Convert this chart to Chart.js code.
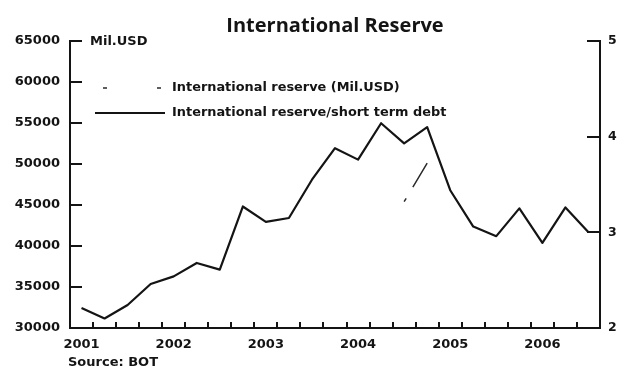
<!DOCTYPE html>
<html>
<head>
<meta charset="utf-8">
<title>International Reserve</title>
<script src="https://cdn.jsdelivr.net/npm/chart.js@4/dist/chart.umd.min.js"></script>
<style>
  html, body { margin: 0; padding: 0; background: #ffffff; }
  #wrap { width: 619px; height: 368px; position: relative; }
</style>
</head>
<body>
<div id="wrap"><canvas id="chart"></canvas></div>
<script>
// Quarterly periods, 2001Q1 .. 2006Q3
const quarters = [
  '2001Q1','2001Q2','2001Q3','2001Q4',
  '2002Q1','2002Q2','2002Q3','2002Q4',
  '2003Q1','2003Q2','2003Q3','2003Q4',
  '2004Q1','2004Q2','2004Q3','2004Q4',
  '2005Q1','2005Q2','2005Q3','2005Q4',
  '2006Q1','2006Q2','2006Q3'
];

// Year labels shown under the first quarter of each year
const yearLabels = ['2001', '2002', '2003', '2004', '2005', '2006'];

// International reserve, million USD (left axis)
const reserveMilUSD = [
  null, null, null, null,
  null, null, null, null,
  null, null, null, null,
  null, null, 45400, 50100,
  null, null, null, null,
  null, null, null
];

// International reserve / short term debt (right axis)
const reserveToShortDebt = [
  2.21, 2.10, 2.24, 2.46,
  2.54, 2.68, 2.61, 3.27,
  3.11, 3.15, 3.55, 3.88,
  3.76, 4.14, 3.93, 4.10,
  3.44, 3.06, 2.96, 3.25,
  2.89, 3.26, 3.00
];

// Axis tick values
const leftTicks = [30000, 35000, 40000, 45000, 50000, 55000, 60000, 65000];
const rightTicks = [2, 3, 4, 5];

const INK = '#141414';
const FONT = 'DejaVu Sans';

// Axis frame with inward-pointing tick marks, legend, unit and source notes
const framePlugin = {
  id: 'frame',
  afterDraw(chart) {
    const { ctx, chartArea: a, scales } = chart;
    const x = scales.x, yl = scales.y, yr = scales.y1;
    ctx.save();
    ctx.strokeStyle = INK;
    ctx.lineWidth = 2;
    ctx.lineCap = 'butt';

    // axis lines
    ctx.beginPath();
    ctx.moveTo(a.left, yl.getPixelForValue(leftTicks[leftTicks.length - 1]));
    ctx.lineTo(a.left, a.bottom);
    ctx.lineTo(a.right, a.bottom);
    ctx.lineTo(a.right, yr.getPixelForValue(rightTicks[rightTicks.length - 1]));
    ctx.stroke();

    // left ticks (pointing into the plot)
    ctx.beginPath();
    leftTicks.forEach(v => {
      const py = Math.round(yl.getPixelForValue(v));
      ctx.moveTo(a.left - 1, py);
      ctx.lineTo(a.left + 12, py);
    });
    // right ticks
    rightTicks.forEach(v => {
      const py = Math.round(yr.getPixelForValue(v));
      ctx.moveTo(a.right + 1, py);
      ctx.lineTo(a.right - 13, py);
    });
    // bottom ticks at quarter boundaries
    for (let i = 1; i < quarters.length; i++) {
      const px = Math.round((x.getPixelForValue(i - 1) + x.getPixelForValue(i)) / 2);
      ctx.moveTo(px, a.bottom);
      ctx.lineTo(px, a.bottom - 6);
    }
    ctx.stroke();

    // unit label
    ctx.fillStyle = INK;
    ctx.font = 'bold 13px "' + FONT + '"';
    ctx.textAlign = 'left';
    ctx.textBaseline = 'middle';
    ctx.fillText('Mil.USD', a.left + 20, yl.getPixelForValue(65000) + 1);

    // source note
    ctx.fillText('Source: BOT', a.left - 2, chart.height - 5);

    // legend
    const legendX0 = a.left + 25, legendX1 = a.left + 95, textX = a.left + 102;
    const rows = [a.top + 47, a.top + 72];
    chart.data.datasets.forEach((ds, i) => {
      const ry = rows[i];
      ctx.save();
      ctx.strokeStyle = ds.borderColor;
      ctx.lineWidth = i === 0 ? 1.5 : 2.2;
      if (i === 0) {
        ctx.setLineDash([4, 50]);
        ctx.lineDashOffset = -8;
      }
      ctx.beginPath();
      ctx.moveTo(legendX0, ry);
      ctx.lineTo(legendX1, ry);
      ctx.stroke();
      ctx.restore();
      ctx.font = 'bold 12.9px "' + FONT + '"';
      ctx.fillStyle = INK;
      ctx.textBaseline = 'middle';
      ctx.fillText(ds.label, textX, ry);
    });
    ctx.restore();
  }
};

const ctx = document.getElementById('chart').getContext('2d');
new Chart(ctx, {
  type: 'line',
  data: {
    labels: quarters,
    datasets: [
      {
        label: 'International reserve (Mil.USD)',
        data: reserveMilUSD,
        yAxisID: 'y',
        borderColor: '#2a2a2a',
        borderWidth: 1.5,
        borderDash: [4, 13, 30, 10],
        pointRadius: 0,
        spanGaps: false,
        tension: 0
      },
      {
        label: 'International reserve/short term debt',
        data: reserveToShortDebt,
        yAxisID: 'y1',
        borderColor: INK,
        borderWidth: 2.2,
        pointRadius: 0,
        tension: 0,
        borderJoinStyle: 'round'
      }
    ]
  },
  options: {
    responsive: true,
    maintainAspectRatio: false,
    devicePixelRatio: 1,
    animation: false,
    layout: { padding: { left: 0, right: 0, top: 0, bottom: 0 } },
    plugins: {
      legend: { display: false },
      tooltip: { enabled: false },
      title: {
        display: true,
        text: 'International Reserve',
        color: INK,
        fullSize: false,
        font: { family: '"Open Sans"', size: 20, weight: 'bold', lineHeight: 1.2 },
        padding: { top: 14, bottom: 3 }
      }
    },
    scales: {
      x: {
        type: 'category',
        offset: true,
        grid: { display: false, drawTicks: false },
        border: { display: false },
        ticks: {
          autoSkip: false,
          maxRotation: 0,
          padding: 9,
          color: INK,
          font: { family: FONT, size: 13, weight: 'bold' },
          callback: (v, i) => {
            const q = quarters[i];
            return q.endsWith('Q1') && yearLabels.includes(q.slice(0, 4)) ? q.slice(0, 4) : '';
          }
        },
        afterFit: s => { s.height = 40; }
      },
      y: {
        position: 'left',
        min: leftTicks[0],
        max: leftTicks[leftTicks.length - 1],
        grid: { display: false, drawTicks: false },
        border: { display: false },
        afterBuildTicks: s => { s.ticks = leftTicks.map(v => ({ value: v })); },
        ticks: {
          padding: 10,
          color: INK,
          font: { family: FONT, size: 13, weight: 'bold' },
          callback: v => String(v)
        },
        afterFit: s => { s.width = 70; }
      },
      y1: {
        position: 'right',
        min: rightTicks[0],
        max: rightTicks[rightTicks.length - 1],
        grid: { display: false, drawTicks: false },
        border: { display: false },
        afterBuildTicks: s => { s.ticks = rightTicks.map(v => ({ value: v })); },
        ticks: {
          padding: 8,
          color: INK,
          font: { family: FONT, size: 12.5, weight: 'bold' },
          callback: v => String(v)
        },
        afterFit: s => { s.width = 19; }
      }
    }
  },
  plugins: [framePlugin]
});
</script>
</body>
</html>
